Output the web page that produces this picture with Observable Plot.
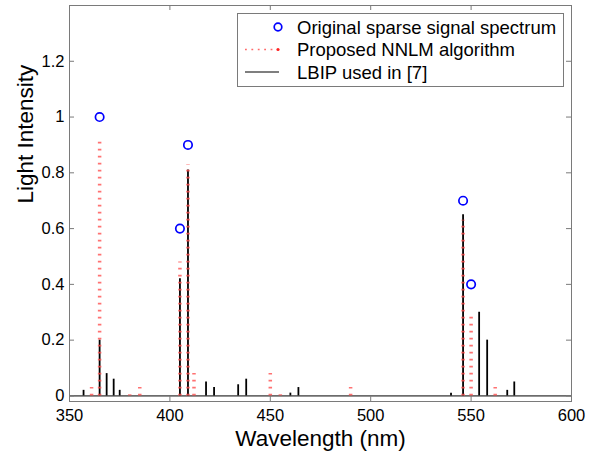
<!DOCTYPE html>
<html><head><meta charset="utf-8">
<script src="https://cdn.jsdelivr.net/npm/d3@7"></script>
<script src="https://cdn.jsdelivr.net/npm/@observablehq/plot@0.6"></script>
<style>
body{margin:0;background:#fff;}
#wrap{position:relative;width:592px;height:453px;font-family:"Liberation Sans",Arial,Helvetica,sans-serif;}
#legend{position:absolute;left:237px;top:13px;}
</style></head><body><div id="wrap"></div>
<script>
// Series names
const seriesNames = ["Original sparse signal spectrum", "Proposed NNLM algorithm", "LBIP used in [7]"];
// Original sparse signal (blue circles)
const originalX = [365, 405, 409, 546, 550];
const originalY = [1.0, 0.6, 0.9, 0.7, 0.4];
// Proposed NNLM (red dotted stems)
const nnlmX = [361, 365, 380, 385, 405, 409, 412, 450, 455, 490, 546, 550, 562];
const nnlmY = [0.03, 0.91, 0.004, 0.03, 0.48, 0.83, 0.08, 0.08, 0.004, 0.03, 0.63, 0.30, 0.03];
// LBIP (black stems)
const lbipX = [357, 365, 368.5, 372, 375, 405, 409, 418, 422, 434, 438, 460, 464, 540, 546, 554, 558, 568, 571.5];
const lbipY = [0.02, 0.20, 0.08, 0.06, 0.02, 0.42, 0.81, 0.05, 0.03, 0.04, 0.06, 0.01, 0.03, 0.01, 0.65, 0.30, 0.20, 0.02, 0.05];
// Ticks
const xTicks = [350, 400, 450, 500, 550, 600];
const yTicks = [0, 0.2, 0.4, 0.6, 0.8, 1, 1.2];
const xLabel = "Wavelength (nm)";
const yLabel = "Light Intensity";

const orig = originalX.map((x, i) => ({x, y: originalY[i]}));
const nnlm = nnlmX.map((x, i) => ({x, y: nnlmY[i]}));
const lbip = lbipX.map((x, i) => ({x, y: lbipY[i]}));

const W = 592, H = 453, mL = 69, mR = 21, mT = 5, mB = 52;
const frameW = W - mL - mR, frameH = H - mT - mB, tk = 5;
const axisCol = "#7a7a7a";
const redCol = "#ff4f4f";

const chart = Plot.plot({
  width: W, height: H,
  marginLeft: mL, marginRight: mR, marginTop: mT, marginBottom: mB,
  x: {domain: [350, 600]},
  y: {domain: [-0.02, 1.4]},
  style: {fontFamily: '"Liberation Sans", Arial, Helvetica, sans-serif', fontSize: "16px", background: "white", color: "black"},
  marks: [
    Plot.ruleY([0], {stroke: "black", strokeWidth: 1}),
    Plot.ruleX(lbip, {x: "x", y1: 0, y2: "y", stroke: "black", strokeWidth: 1.8}),
    Plot.ruleX(nnlm, {x: "x", y1: 0, y2: "y", stroke: redCol, strokeWidth: 3.5, strokeDasharray: "1.6,5.4", strokeOpacity: 0.8}),
    Plot.dot(orig, {x: "x", y: "y", r: 4.2, stroke: "#0000ff", strokeWidth: 1.7, fill: "none"}),
    Plot.frame({stroke: axisCol}),
    Plot.tickX(xTicks, {x: d => d, insetTop: frameH - tk, stroke: axisCol}),
    Plot.tickX(xTicks, {x: d => d, insetBottom: frameH - tk, stroke: axisCol}),
    Plot.tickY(yTicks, {y: d => d, insetRight: frameW - tk, stroke: axisCol}),
    Plot.tickY(yTicks, {y: d => d, insetLeft: frameW - tk, stroke: axisCol}),
    Plot.axisX({ticks: xTicks, tickSize: 0, tickPadding: 8, label: null, fontSize: 16.5, tickFormat: d => String(d)}),
    Plot.axisY({ticks: yTicks, tickSize: 0, tickPadding: 5, label: null, fontSize: 16.5, tickFormat: d => String(d)}),
    Plot.text([xLabel], {text: d => d, frameAnchor: "bottom", lineAnchor: "middle", dy: 37, fontSize: 22.5}),
    Plot.text([yLabel], {text: d => d, frameAnchor: "left", lineAnchor: "middle", rotate: -90, dx: -44, fontSize: 22.5})
  ]
});
const wrap = document.getElementById("wrap");
wrap.appendChild(chart);

// Legend overlay
const lw = 326, lh = 73, rows = [14, 36.5, 59];
const ns = "http://www.w3.org/2000/svg";
const leg = document.createElementNS(ns, "svg");
leg.setAttribute("id", "legend");
leg.setAttribute("width", lw + 1);
leg.setAttribute("height", lh + 1);
function el(tag, attrs) { const e = document.createElementNS(ns, tag); for (const k in attrs) e.setAttribute(k, attrs[k]); leg.appendChild(e); return e; }
el("rect", {x: 0.5, y: 0.5, width: lw, height: lh, fill: "white", stroke: axisCol, "stroke-width": 1});
el("circle", {cx: 41, cy: rows[0], r: 3.8, fill: "none", stroke: "#0000ff", "stroke-width": 1.7});
el("line", {x1: 8, x2: 40, y1: rows[1], y2: rows[1], stroke: redCol, "stroke-width": 1.6, "stroke-dasharray": "1.8,4.6", "stroke-opacity": 0.85});
el("circle", {cx: 41, cy: rows[1], r: 1.6, fill: "#ff2020"});
el("line", {x1: 8, x2: 42, y1: rows[2], y2: rows[2], stroke: "black", "stroke-width": 1.2});
seriesNames.forEach((s, i) => {
  const t = el("text", {x: 60, y: rows[i], "dominant-baseline": "central", "font-size": 18.5, fill: "black",
    "font-family": '"Liberation Sans", Arial, Helvetica, sans-serif'});
  t.textContent = s;
});
wrap.appendChild(leg);
</script>
</body></html>
